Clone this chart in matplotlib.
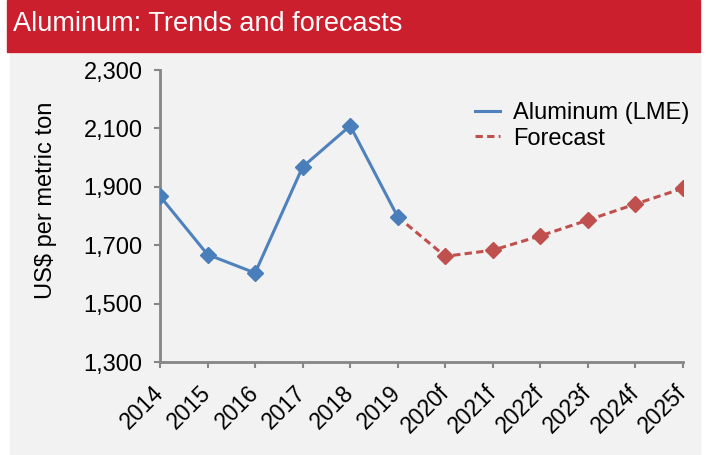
import matplotlib.pyplot as plt
from matplotlib.patches import Rectangle
from matplotlib.lines import Line2D
from matplotlib.transforms import ScaledTranslation

plt.rcParams['font.family'] = ['Liberation Sans', 'DejaVu Sans']

years = ['2014', '2015', '2016', '2017', '2018', '2019',
         '2020f', '2021f', '2022f', '2023f', '2024f', '2025f']
actual = [1868, 1668, 1605, 1968, 2109, 1797]
forecast = [1797, 1662, 1683, 1732, 1786, 1841, 1895]
yticks = [1300, 1500, 1700, 1900, 2100, 2300]

blue = '#4f81bd'
red = '#c0504d'
bg = '#f2f2f2'

W, H = 708, 455
fig = plt.figure(figsize=(W / 100, H / 100), dpi=100)
fig.patch.set_facecolor('white')

# header band and grey panel
fig.patches.append(Rectangle((10 / W, 0), 690 / W, 1 - 54 / H,
                             transform=fig.transFigure, color=bg, zorder=0))
fig.patches.append(Rectangle((7 / W, 1 - 52 / H), 693 / W, 52 / H,
                             transform=fig.transFigure, color='#cc1f2e', zorder=1))
fig.text(13 / W, 1 - 24 / H, 'Aluminum: Trends and forecasts', color='white',
         fontsize=19.5, va='center', ha='left')

ax = fig.add_axes([160 / W, 1 - 362 / H, (683 - 160) / W, (362 - 70) / H])
ax.set_zorder(3)
ax.set_facecolor(bg)

x = list(range(len(years)))
ax.plot(x[:6], actual, color=blue, lw=2.2, marker='D', ms=8,
        mfc='#4a7ebb', mec='#4a7ebb', zorder=3)
ax.plot(x[5:], forecast, color=red, lw=2.2, ls=(0, (2.4, 1.4)), marker='D', ms=8,
        mfc=red, mec=red, markevery=list(range(1, 7)), zorder=2)

ax.set_xlim(0, len(years) - 1)
ax.set_ylim(1300, 2300)
ax.set_yticks(yticks)
ax.set_yticklabels([f'{v:,}' for v in yticks], fontsize=17)
ax.set_xticks(x)
ax.set_xticklabels(years, rotation=45, ha='right', va='center',
                   rotation_mode='anchor', fontsize=16.5)
shift = ScaledTranslation(-5 / 100, 0, fig.dpi_scale_trans)
for lab in ax.get_xticklabels():
    lab.set_transform(lab.get_transform() + shift)
ax.tick_params(colors='#868686', labelcolor='black', length=4.5, width=1.5)
ax.tick_params(axis='x', pad=15)
ax.tick_params(axis='y', pad=8)
for s in ['top', 'right']:
    ax.spines[s].set_visible(False)
for s in ['left', 'bottom']:
    ax.spines[s].set_color('#868686')
    ax.spines[s].set_linewidth(2)
for sp in ax.spines.values():
    sp.set_clip_on(False)

ax.set_ylabel('US$ per metric ton', fontsize=17)
ax.yaxis.set_label_coords((57 - 160) / 523, (362 - 200) / 292)

handles = [Line2D([], [], color=blue, lw=2.2),
           Line2D([], [], color=red, lw=2.2, ls=(0, (2.4, 1.4)))]
ax.legend(handles, ['Aluminum (LME)', 'Forecast'], loc='upper left',
          bbox_to_anchor=(475 / W, 1 - 102 / H), bbox_transform=fig.transFigure,
          frameon=False, fontsize=17, borderpad=0, borderaxespad=0,
          handlelength=1.05, handletextpad=0.55, labelspacing=0.15)

fig.savefig('out.png', dpi=100, facecolor=fig.get_facecolor())
